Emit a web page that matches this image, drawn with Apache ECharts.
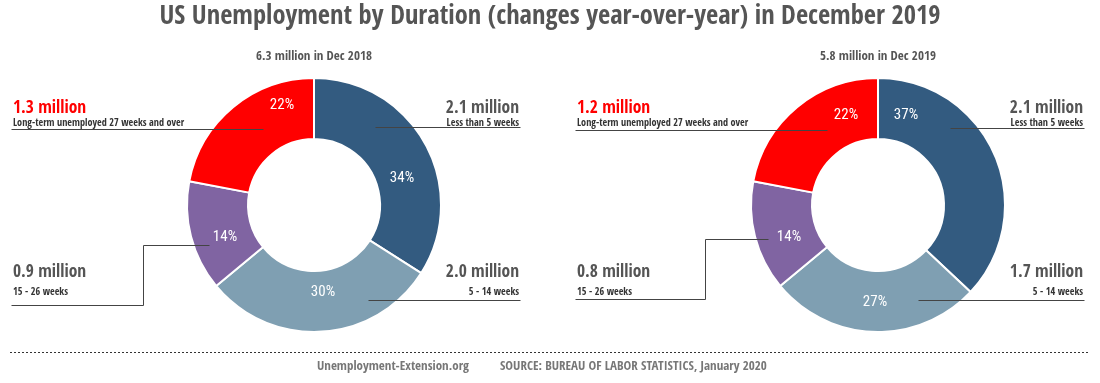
<!DOCTYPE html>
<html><head><meta charset="utf-8">
<script src="https://cdn.jsdelivr.net/npm/echarts@6/dist/echarts.min.js"></script>
<style>html,body{margin:0;padding:0;background:#fff}#c{width:1100px;height:383px}</style>
</head><body><div id="c"></div>
<script>
// ---- data ----
const categories = ['Less than 5 weeks', '5 - 14 weeks', '15 - 26 weeks', 'Long-term unemployed 27 weeks and over'];
const shares2018 = [34, 30, 14, 22];
const shares2019 = [37, 27, 14, 22];
const millions2018 = [2.1, 2.0, 0.9, 1.3];
const millions2019 = [2.1, 1.7, 0.8, 1.2];
const totals = [6.3, 5.8];
const periods = ['Dec 2018', 'Dec 2019'];
const titleText = 'US Unemployment by Duration (changes year-over-year) in December 2019';
const footerSite = 'Unemployment-Extension.org';
const footerSource = 'SOURCE: BUREAU OF LABOR STATISTICS, January 2020';

// ---- style / layout ----
const colors = ['#335b80', '#7f9fb2', '#8064a2', '#ff0000'];
const FONT = "'Open Sans Condensed','Roboto Condensed',sans-serif";
const FONT2 = "'Roboto Condensed',sans-serif";
const centers = [[314, 205], [878, 205]];
const R0 = 66, R1 = 127;
const pctPos = [
  [[88, -27], [9, 87], [-89, 32], [-32, -100]],
  [[28, -90], [-3, 97], [-89, 32], [-32, -90]]
];
const callouts = [
  [
    {side: 'right', top: -106, sub: 's', line: [[61, -78], [206, -78]]},
    {side: 'right', top: 58, sub: 'sb', line: [[54, 95], [206, 95]]},
    {side: 'left', top: 58, sub: 'sb', line: [[-105, 40], [-171, 40], [-171, 100], [-303, 100]]},
    {side: 'left', top: -106, sub: 's', line: [[-51, -76], [-303, -76]]}
  ],
  [
    {side: 'right', top: -106, sub: 's', line: [[72, -77], [206, -77]]},
    {side: 'right', top: 58, sub: 'sb', line: [[40, 95], [206, 95]]},
    {side: 'left', top: 58, sub: 'sb', line: [[-110, 34], [-173, 34], [-173, 94], [-303, 94]]},
    {side: 'left', top: -106, sub: 's', line: [[-51, -75], [-303, -75]]}
  ]
];

const sharesAll = [shares2018, shares2019];
const millionsAll = [millions2018, millions2019];

const rich = {
  v: {fontFamily: FONT, fontSize: 17.5, fontWeight: 'bold', color: '#555', lineHeight: 18},
  vr: {fontFamily: FONT, fontSize: 17.5, fontWeight: 'bold', color: '#ff0000', lineHeight: 18},
  s: {fontFamily: FONT, fontSize: 10.2, fontWeight: 'bold', color: '#333', lineHeight: 12},
  sb: {fontFamily: FONT, fontSize: 10.2, fontWeight: 'bold', color: '#333', lineHeight: 23}
};

const series = [];
[0, 1].forEach(ci => {
  const c = centers[ci];
  const shares = sharesAll[ci];
  const mil = millionsAll[ci];
  const data = shares.map((v, i) => ({name: categories[i], value: v, itemStyle: {color: colors[i]}}));
  series.push({
    type: 'pie', z: 2, center: c, radius: [R0, R1], startAngle: 90, clockwise: true,
    silent: true, emphasis: {disabled: true}, avoidLabelOverlap: false,
    itemStyle: {borderColor: '#fff', borderWidth: 2},
    data: data,
    label: {show: true, position: 'inside', formatter: '{c}%', color: '#fff', fontSize: 15, fontFamily: FONT2},
    labelLine: {show: false},
    labelLayout: p => ({
      x: c[0] + pctPos[ci][p.dataIndex][0],
      y: c[1] + pctPos[ci][p.dataIndex][1],
      align: 'center', verticalAlign: 'middle'
    })
  });
  series.push({
    type: 'pie', z: 5, center: c, radius: [R0, R1], startAngle: 90, clockwise: true,
    silent: true, emphasis: {disabled: true}, avoidLabelOverlap: false,
    itemStyle: {color: 'rgba(0,0,0,0)', borderWidth: 0},
    data: shares.map((v, i) => ({name: categories[i], value: v})),
    label: {
      show: true, position: 'outside', rich: rich,
      formatter: p => {
        const L = callouts[ci][p.dataIndex];
        const vk = p.dataIndex === 3 ? 'vr' : 'v';
        return '{' + vk + '|' + mil[p.dataIndex].toFixed(1) + ' million}\n{' + L.sub + '|' + p.name + '}';
      }
    },
    labelLine: {show: true, lineStyle: {color: '#444', width: 1}},
    labelLayout: p => {
      const L = callouts[ci][p.dataIndex];
      return {
        x: L.side === 'right' ? c[0] + 205 : c[0] - 301,
        y: c[1] + L.top,
        align: L.side, verticalAlign: 'top',
        labelLinePoints: L.line.map(d => [c[0] + d[0] + 0.5, c[1] + d[1] + 0.5])
      };
    }
  });
});

const titles = [
  {text: titleText, left: 'center', top: 4, padding: 0,
   textStyle: {fontFamily: FONT, fontSize: 26.5, fontWeight: 'bold', color: '#555'}},
  {text: totals[0].toFixed(1) + ' million in ' + periods[0], left: centers[0][0], textAlign: 'center', top: 50, padding: 0,
   textStyle: {fontFamily: FONT, fontSize: 13, fontWeight: 'bold', color: '#555'}},
  {text: totals[1].toFixed(1) + ' million in ' + periods[1], left: centers[1][0], textAlign: 'center', top: 50, padding: 0,
   textStyle: {fontFamily: FONT, fontSize: 13, fontWeight: 'bold', color: '#555'}},
  {text: footerSite, left: 317, top: 360, padding: 0,
   textStyle: {fontFamily: FONT, fontSize: 13, fontWeight: 'bold', color: '#777'}},
  {text: footerSource, left: 500, top: 360, padding: 0,
   textStyle: {fontFamily: FONT, fontSize: 13, fontWeight: 'bold', color: '#777'}}
];

const chart = echarts.init(document.getElementById('c'), null, {renderer: 'canvas'});
chart.setOption({
  animation: false,
  backgroundColor: '#fff',
  title: titles,
  series: series,
  graphic: [{
    type: 'line', silent: true,
    shape: {x1: 10, y1: 352.5, x2: 1090, y2: 352.5},
    style: {stroke: '#333', lineWidth: 1, lineDash: [2, 2]}
  }]
});
</script>
</body></html>
